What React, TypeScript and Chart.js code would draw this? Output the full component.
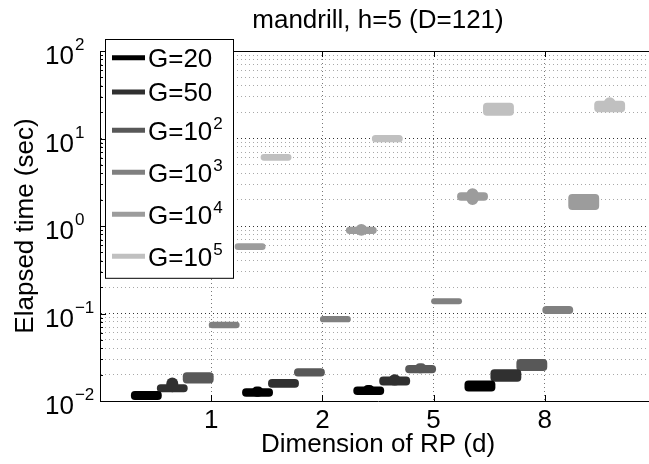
import React, { useEffect, useRef } from 'react';
import { Chart, registerables } from 'chart.js';

Chart.register(...registerables);

const FONT = "'Liberation Sans', Arial, Helvetica, sans-serif";

// ---- data ----
const categories = ['1', '2', '5', '8'];
const seriesLabels = ['G=20', 'G=50', 'G=10', 'G=10', 'G=10', 'G=10'];
const seriesExponents = ['', '', '2', '3', '4', '5'];
const seriesColors = ['#000000', '#303030', '#585858', '#808080', '#9c9c9c', '#c0c0c0'];

// box extents [low, high] (sec) for d = 1, 2, 5, 8
const boxG20 = [[0.0103, 0.0130], [0.0112, 0.0140], [0.0117, 0.0146], [0.0128, 0.0171]];
const boxG50 = [[0.0126, 0.0155], [0.0142, 0.0178], [0.0150, 0.0190], [0.0166, 0.0230]];
const boxG1e2 = [[0.0159, 0.0213], [0.0190, 0.0236], [0.0207, 0.0258], [0.0220, 0.0302]];
const boxG1e3 = [[0.0677, 0.0806], [0.0793, 0.0936], [0.1274, 0.149], [0.0987, 0.1218]];
const boxG1e4 = [[0.532, 0.634], [0.811, 0.982], [1.945, 2.427], [1.523, 2.32]];
const boxG1e5 = [[5.57, 6.65], [9.05, 10.96], [18.2, 25.6], [19.9, 27.0]];

// whisker / outlier extents (null where hidden by the box)
const whiskerG20 = [null, [0.0112, 0.0146], [0.0117, 0.0152], null];
const whiskerG50 = [[0.0126, 0.0185], null, [0.0150, 0.0202], null];
const whiskerG1e2 = [null, null, [0.0207, 0.0270], null];
const whiskerG1e3 = [null, null, null, null];
const whiskerG1e4 = [null, [0.775, 1.055], [1.738, 2.70], null];
const whiskerG1e5 = [null, null, null, [19.9, 29.6]];

const yDecades = [-2, -1, 0, 1, 2];
const yMinorMultipliers = [1, 2, 3, 4, 5, 6, 7, 8, 9];

const boxes = [boxG20, boxG50, boxG1e2, boxG1e3, boxG1e4, boxG1e5];
const whiskers = [whiskerG20, whiskerG50, whiskerG1e2, whiskerG1e3, whiskerG1e4, whiskerG1e5];

const isMajor = (v: number) => Math.abs(Math.log10(v) - Math.round(Math.log10(v))) < 1e-9;

const decorPlugin = {
  id: 'decor',
  afterDraw(chart: any) {
    const { ctx, chartArea: a, scales } = chart;
    const x = scales.x;
    const y = scales.y;
    ctx.save();
    ctx.strokeStyle = '#000';
    ctx.lineWidth = 1;
    ctx.setLineDash([]);
    ctx.beginPath();
    // top border
    ctx.moveTo(a.left, a.top + 0.5);
    ctx.lineTo(a.right, a.top + 0.5);
    // y inward ticks
    y.ticks.forEach((t: any) => {
      const py = Math.round(y.getPixelForValue(t.value)) + 0.5;
      ctx.moveTo(a.left, py);
      ctx.lineTo(a.left + (isMajor(t.value) ? 6 : 3), py);
    });
    // x inward ticks
    x.ticks.forEach((t: any) => {
      const px = Math.round(x.getPixelForValue(t.value)) + 0.5;
      ctx.moveTo(px, a.bottom);
      ctx.lineTo(px, a.bottom - 6);
      ctx.moveTo(px, a.top);
      ctx.lineTo(px, a.top + 6);
    });
    ctx.stroke();

    // y tick labels with superscripts
    ctx.fillStyle = '#000';
    ctx.textAlign = 'left';
    ctx.textBaseline = 'alphabetic';
    yDecades.forEach((e) => {
      const py = y.getPixelForValue(Math.pow(10, e));
      ctx.font = `26px ${FONT}`;
      ctx.fillText('10', 45, py + 13);
      const w = ctx.measureText('10').width;
      ctx.font = `17px ${FONT}`;
      ctx.fillText(e < 0 ? '\u2212' + Math.abs(e) : String(e), 45 + w + 1, py - 1);
    });

    // legend
    const lx = 105.5, ltop = 39.5, lw = 128;
    const heights = seriesExponents.map((e) => (e ? 42 : 34.4));
    const lh = heights.reduce((s, h) => s + h, 0) + 2;
    ctx.fillStyle = '#fff';
    ctx.fillRect(lx, ltop, lw, lh);
    ctx.strokeStyle = '#000';
    ctx.strokeRect(lx, ltop, lw, lh);
    let yy = ltop + 1;
    seriesLabels.forEach((lab, i) => {
      const cy = yy + heights[i] / 2;
      yy += heights[i];
      ctx.strokeStyle = seriesColors[i];
      ctx.lineWidth = 5;
      ctx.beginPath();
      ctx.moveTo(112, cy);
      ctx.lineTo(145, cy);
      ctx.stroke();
      ctx.fillStyle = '#000';
      ctx.font = `26px ${FONT}`;
      ctx.fillText(lab, 148, cy + 9.3);
      if (seriesExponents[i]) {
        const w = ctx.measureText(lab).width;
        ctx.font = `17px ${FONT}`;
        ctx.fillText(seriesExponents[i], 148 + w + 1, cy - 1);
      }
    });
    ctx.restore();
  },
};

export default function App() {
  const ref = useRef<HTMLCanvasElement>(null);
  useEffect(() => {
    Chart.defaults.font.family = FONT;
    const datasets: any[] = [];
    boxes.forEach((b, s) => {
      const label = seriesLabels[s] + (seriesExponents[s] ? '^' + seriesExponents[s] : '');
      datasets.push({
        type: 'bar',
        label,
        stack: 's' + s,
        data: b.map((r, i) => ({ x: i + 1, y: r })),
        backgroundColor: seriesColors[s],
        borderWidth: 0,
        borderSkipped: false,
        borderRadius: 4,
        barPercentage: 1.19,
        categoryPercentage: 1.4,
      });
      datasets.push({
        type: 'bar',
        label: label + ' whisker',
        stack: 's' + s,
        data: whiskers[s]
          .map((r, i) => (r ? { x: i + 1, y: r } : null))
          .filter((p) => p !== null),
        backgroundColor: seriesColors[s],
        borderWidth: 0,
        borderSkipped: false,
        borderRadius: 6,
        barPercentage: 0.46,
        categoryPercentage: 1.4,
      });
    });

    const chart = new Chart(ref.current as HTMLCanvasElement, {
      type: 'bar',
      data: { datasets },
      options: {
        responsive: false,
        devicePixelRatio: 1,
        animation: false,
        events: [],
        layout: { padding: { left: 0, right: 44, top: 0, bottom: 0 } },
        plugins: {
          legend: { display: false },
          tooltip: { enabled: false },
          title: {
            display: true,
            fullSize: false,
            text: 'mandrill, h=5 (D=121)',
            color: '#000',
            font: { size: 26, weight: 'normal', family: FONT, lineHeight: 1.2 },
            padding: { top: 5, bottom: 14.8 },
          },
        },
        scales: {
          x: {
            type: 'linear',
            min: 0,
            max: 5,
            offset: false,
            afterBuildTicks: (scale: any) => {
              scale.ticks = categories.map((_, i) => ({ value: i + 1 }));
            },
            afterFit: (scale: any) => {
              scale.height = 63;
            },
            ticks: {
              callback: (v: any) => categories[Number(v) - 1] ?? '',
              color: '#000',
              font: { size: 26, family: FONT },
              padding: 4,
              maxRotation: 0,
              autoSkip: false,
            },
            grid: { color: '#777', lineWidth: 1, drawTicks: false, offset: false },
            border: { display: true, color: '#000', width: 1, dash: [1, 3] },
            title: {
              display: true,
              text: 'Dimension of RP (d)',
              color: '#000',
              font: { size: 26, family: FONT, lineHeight: 1.2 },
              padding: { top: 0, bottom: 4 },
            },
          },
          y: {
            type: 'logarithmic',
            min: 0.01,
            max: 100,
            stacked: false,
            afterBuildTicks: (scale: any) => {
              const t: any[] = [];
              yDecades.slice(0, -1).forEach((e) => {
                yMinorMultipliers.forEach((m) => {
                  t.push({ value: Number((m * Math.pow(10, e)).toPrecision(4)) });
                });
              });
              t.push({ value: Math.pow(10, yDecades[yDecades.length - 1]) });
              scale.ticks = t;
            },
            afterFit: (scale: any) => {
              scale.width = 100;
            },
            ticks: { display: false },
            grid: {
              color: (c: any) => (c.tick && isMajor(c.tick.value) ? '#333' : '#a8a8a8'),
              lineWidth: 1,
              drawTicks: false,
            },
            border: { display: true, color: '#000', width: 1, dash: [1, 3] },
            title: {
              display: true,
              text: 'Elapsed time (sec)',
              color: '#000',
              font: { size: 26, family: FONT, lineHeight: 1.2 },
              padding: { top: 10, bottom: 0 },
            },
          },
        },
      },
      plugins: [decorPlugin],
    } as any);
    return () => chart.destroy();
  }, []);

  return (
    <div
      style={{
        position: 'fixed',
        left: 0,
        top: 0,
        width: 649,
        height: 464,
        overflow: 'hidden',
        background: '#fff',
      }}
    >
      <canvas ref={ref} width={700} height={464} style={{ display: 'block', width: 700, height: 464 }} />
    </div>
  );
}
